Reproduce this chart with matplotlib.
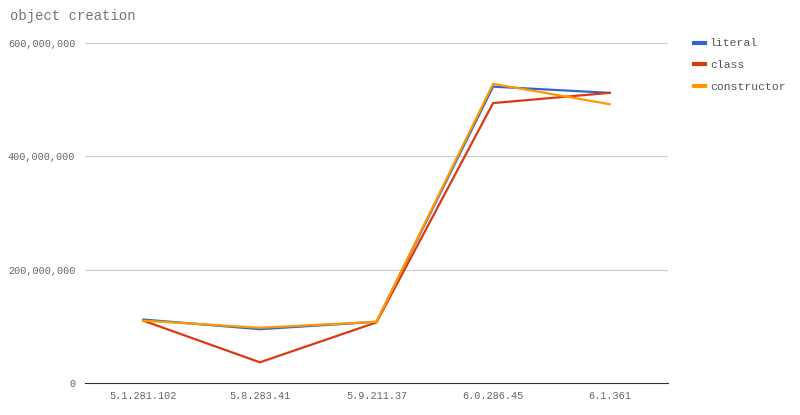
import matplotlib
matplotlib.use("Agg")
import matplotlib.pyplot as plt

categories = ["5.1.281.102", "5.8.283.41", "5.9.211.37", "6.0.286.45", "6.1.361"]
literal = [112e6, 95e6, 108e6, 523e6, 512e6]
klass = [110e6, 36.5e6, 107e6, 494e6, 512e6]
constructor = [110e6, 97.5e6, 108e6, 528e6, 492e6]
series_names = ["literal", "class", "constructor"]
yticks = [0, 200e6, 400e6, 600e6]

colors = ["#3366cc", "#dc3912", "#ff9900"]
font = "Liberation Mono"

fig = plt.figure(figsize=(8, 4.15), dpi=100)
ax = fig.add_axes([85/800, 32/415, 583/800, 340/415])

x = list(range(len(categories)))
for vals, name, c in zip([literal, klass, constructor], series_names, colors):
    ax.plot(x, vals, color=c, lw=1.6, label=name, solid_joinstyle="miter")

ax.set_xlim(-0.5, len(categories) - 0.5)
ax.set_ylim(0, 600e6)
ax.set_yticks(yticks)
ax.set_yticklabels([f"{int(v):,}" for v in yticks], family=font, fontsize=7.3, color="#666666")
ax.set_xticks(x)
ax.set_xticklabels(categories, family=font, fontsize=7.3, color="#666666")
ax.tick_params(axis="y", length=0, pad=7)
ax.tick_params(axis="x", length=0, pad=6)
ax.grid(axis="y", color="#cccccc", lw=0.8)
ax.set_axisbelow(True)
for s in ["top", "right", "left"]:
    ax.spines[s].set_visible(False)
ax.spines["bottom"].set_color("#333333")
ax.spines["bottom"].set_linewidth(0.8)
ax.spines["bottom"].set_zorder(1)

fig.text(10/800, 1 - 16/415, "object creation", family=font, fontsize=10, color="#757575", va="center", ha="left")

leg = fig.legend(loc="upper left", bbox_to_anchor=(694/800, 1 - 38.5/415), frameon=False,
                 prop={"family": font, "size": 8.2}, handlelength=0.95, handletextpad=0.45,
                 labelspacing=1.05, borderaxespad=0, borderpad=0)
for t in leg.get_texts():
    t.set_color("#555555")
for h in leg.get_lines():
    h.set_linewidth(3)

fig.savefig("out.png", dpi=100)
